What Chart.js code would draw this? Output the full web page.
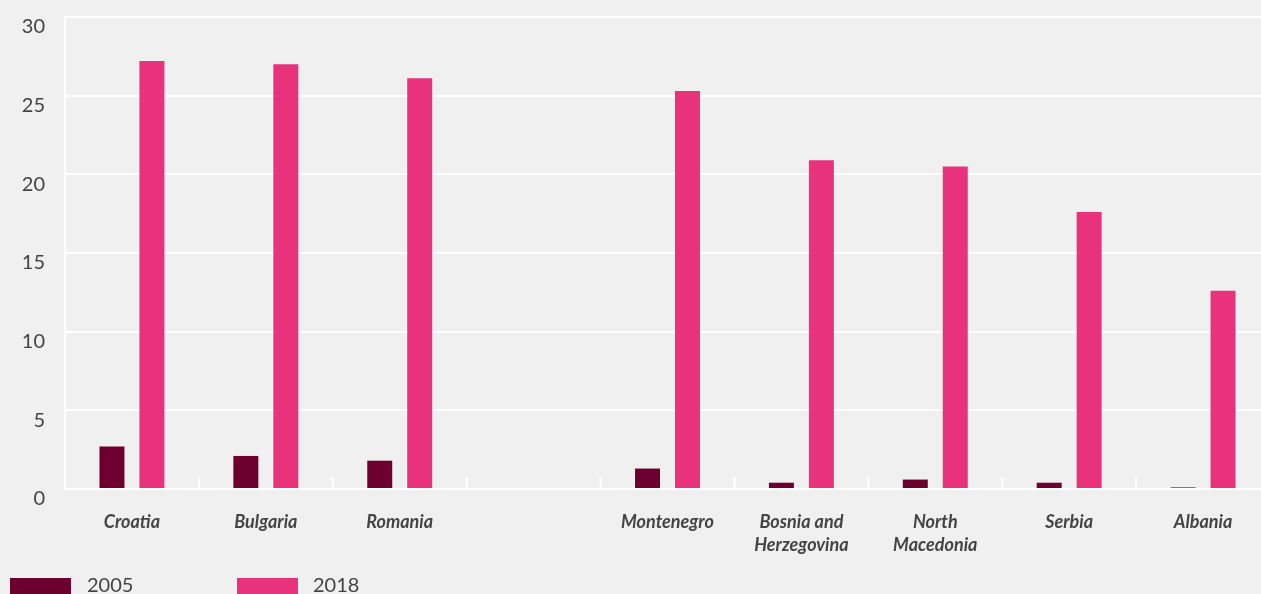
<!DOCTYPE html>
<html>
<head>
<meta charset="utf-8">
<script src="https://cdn.jsdelivr.net/npm/chart.js@4.4.1/dist/chart.umd.min.js"></script>
<style>
  html, body { margin: 0; padding: 0; background: #f0f0f0; overflow: hidden; }
  #wrap { position: relative; width: 1270px; height: 594px; }
  #legenda { position: absolute; left: 0; top: 0; font-family: Lato, sans-serif; font-size: 20px; color: #444; }
  .caixa { position: absolute; top: 578px; width: 61px; height: 20px; }
  .rotulo { position: absolute; top: 572px; line-height: 24px; }
</style>
</head>
<body>
<div id="wrap">
  <canvas id="grafico" width="1270" height="594"></canvas>
  <div id="legenda">
    <div class="caixa" style="left:10px;background:#6e0030"></div>
    <div class="rotulo" style="left:87px">2005</div>
    <div class="caixa" style="left:237px;background:#e8337c"></div>
    <div class="rotulo" style="left:313px">2018</div>
  </div>
</div>
<script>
// categorias (a vazia separa UE dos Balcãs Ocidentais)
const paises = [
  'Croatia', 'Bulgaria', 'Romania', '',
  'Montenegro', ['Bosnia and', 'Herzegovina'], ['North', 'Macedonia'], 'Serbia', 'Albania'
];
const valores2005 = [2.7, 2.1, 1.8, null, 1.3, 0.4, 0.6, 0.4, 0.1];
const valores2018 = [27.2, 27.0, 26.1, null, 25.3, 20.9, 20.5, 17.6, 12.6];
const ticksY = [0, 5, 10, 15, 20, 25, 30];

const COR_2005 = '#6e0030';
const COR_2018 = '#e8337c';
const COR_TEXTO = '#444444';

// marcas curtas para cima entre as categorias
const marcasEixoX = {
  id: 'marcasEixoX',
  afterDatasetsDraw(chart) {
    const x = chart.scales.x;
    const ctx = chart.ctx;
    const metade = (x.getPixelForValue(1) - x.getPixelForValue(0)) / 2;
    const base = chart.chartArea.bottom;
    ctx.save();
    ctx.strokeStyle = '#ffffff';
    ctx.lineWidth = 2;
    for (let i = 0; i <= paises.length; i++) {
      const px = x.getPixelForValue(i) - metade;
      ctx.beginPath();
      ctx.moveTo(px, base);
      ctx.lineTo(px, base - 12);
      ctx.stroke();
    }
    ctx.restore();
  }
};

new Chart(document.getElementById('grafico'), {
  type: 'bar',
  data: {
    labels: paises,
    datasets: [
      { label: '2005', data: valores2005, backgroundColor: COR_2005 },
      { label: '2018', data: valores2018, backgroundColor: COR_2018 }
    ]
  },
  options: {
    responsive: false,
    animation: false,
    devicePixelRatio: 1,
    categoryPercentage: 0.597,
    barPercentage: 0.625,
    layout: { padding: { top: 17, right: 0, left: 0, bottom: 0 } },
    plugins: { legend: { display: false }, tooltip: { enabled: false } },
    scales: {
      x: {
        grid: { display: false },
        border: { display: true, color: '#ffffff', width: 2 },
        ticks: {
          color: COR_TEXTO,
          padding: 14,
          maxRotation: 0,
          autoSkip: false,
          font: { family: 'Lato', size: 18, weight: 'bold', style: 'italic', lineHeight: 1.25 }
        },
        afterFit(scale) { scale.height = 105; }
      },
      y: {
        min: 0,
        max: 30,
        afterBuildTicks(scale) { scale.ticks = ticksY.map((v) => ({ value: v })); },
        grid: { color: '#ffffff', lineWidth: 2, drawTicks: false },
        border: { display: true, color: '#ffffff', width: 2 },
        ticks: {
          color: COR_TEXTO,
          padding: 20,
          labelOffset: 10,
          font: { family: 'Lato', size: 20 }
        },
        afterFit(scale) {
          scale.width = 65;
          // o rótulo do topo fica abaixo da linha, então não precisa de folga extra
          scale.paddingTop = 0;
          scale.paddingBottom = 0;
        }
      }
    }
  },
  plugins: [marcasEixoX]
});
</script>
</body>
</html>
